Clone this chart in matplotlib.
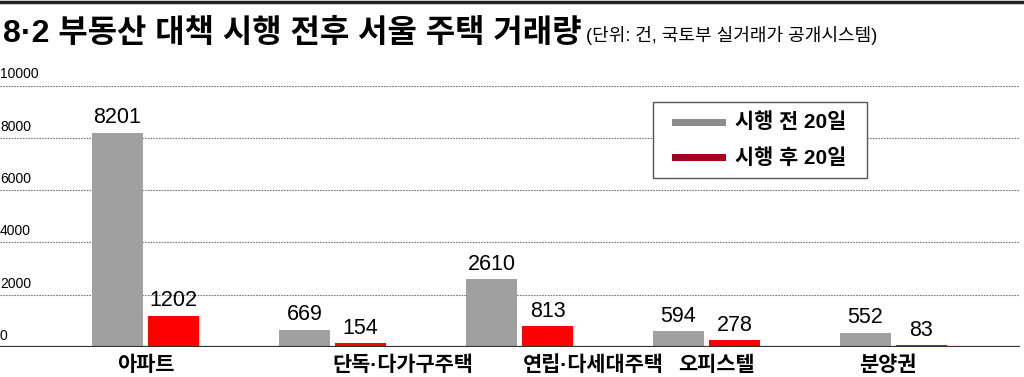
import matplotlib
matplotlib.use("Agg")
import matplotlib.pyplot as plt
from matplotlib.patches import Rectangle
from matplotlib.lines import Line2D
import numpy as np

categories = ["아파트", "단독·다가구주택", "연립·다세대주택", "오피스텔", "분양권"]
before = [8201, 669, 2610, 594, 552]
after = [1202, 154, 813, 278, 83]
series_names = ["시행 전 20일", "시행 후 20일"]
yticks = [0, 2000, 4000, 6000, 8000, 10000]
title = "8·2 부동산 대책 시행 전후 서울 주택 거래량"
subtitle = "(단위: 건, 국토부 실거래가 공개시스템)"

# layout (pixel-based offsets for category labels, relative to group centre)
label_offsets_px = [0, 70, 74, 10, -6]

KR = ["Liberation Sans", "Noto Sans CJK KR", "DejaVu Sans"]
NUM = ["Liberation Sans Narrow", "Liberation Sans", "DejaVu Sans"]

W, H = 1024, 377
fig = plt.figure(figsize=(W / 100, H / 100), dpi=100)
fig.patch.set_facecolor("white")

base_px, top_px = 347, 85.5
ax = fig.add_axes([0, (H - base_px) / H, 1020 / W, (base_px - top_px) / H])
ax.set_ylim(0, 10000)
group_px = 187.0
xl = (0 - 145.5) / group_px
xr = (1020 - 145.5) / group_px
ax.set_xlim(xl, xr)

bw = 51 / group_px
gap = 5 / group_px
x = np.arange(len(categories))
gray_c = "#a0a0a0"
red_c = "#ff0000"
ax.bar(x - (gap / 2 + bw / 2), before, width=bw, color=gray_c, zorder=3)
ax.bar(x + (gap / 2 + bw / 2), after, width=bw, color=red_c, zorder=3)

for xi, v in zip(x, before):
    ax.annotate(str(v), (xi - (gap / 2 + bw / 2), v), xytext=(0, 3),
                textcoords="offset points", ha="center", va="bottom",
                fontsize=15.5, family=NUM, color="black", zorder=4)
for xi, v in zip(x, after):
    ax.annotate(str(v), (xi + (gap / 2 + bw / 2), v), xytext=(0, 3),
                textcoords="offset points", ha="center", va="bottom",
                fontsize=15.5, family=NUM, color="black", zorder=4)

# grid lines
for t in yticks[1:]:
    ax.axhline(t, color="#777777", lw=0.8, ls=(0, (1.5, 1)), zorder=1)
ax.axhline(0, color="#333333", lw=1.6, zorder=5)

for t in yticks:
    ax.annotate(str(t), (0, t), xycoords=("axes fraction", "data"),
                xytext=(0, 3), textcoords="offset points",
                ha="left", va="bottom", fontsize=10, family=NUM, color="black")

for xi, cat, off in zip(x, categories, label_offsets_px):
    ax.annotate(cat, (xi + off / group_px, 0), xytext=(0, -6),
                textcoords="offset points", ha="center", va="top",
                fontsize=15, family=KR, fontweight="bold", color="black")

ax.set_xticks([])
ax.set_yticks([])
for s in ax.spines.values():
    s.set_visible(False)
ax.patch.set_alpha(0)

# legend (drawn in figure pixel space)
def fx(px):
    return px / W

def fy(py):
    return 1 - py / H

box = Rectangle((fx(653), fy(178)), fx(867) - fx(653), fy(102) - fy(178),
                transform=fig.transFigure, facecolor="white", edgecolor="#555555",
                lw=1.0, zorder=6)
fig.add_artist(box)
leg_colors = ["#8c8c8c", "#a50021"]
for i, (name, col) in enumerate(zip(series_names, leg_colors)):
    cy = 122 + 36 * i
    fig.add_artist(Rectangle((fx(672), fy(cy + 3.5)), fx(726) - fx(672), 7 / H,
                             transform=fig.transFigure, facecolor=col,
                             edgecolor="none", zorder=7))
    fig.text(fx(735), fy(cy), name, fontsize=15, family=KR, fontweight="bold",
             ha="left", va="center", zorder=7)

# top rule
fig.add_artist(Line2D([0, 1], [1 - 2 / H, 1 - 2 / H], color="#222222", lw=2.5,
                      transform=fig.transFigure))

t1 = fig.text(3 / W, 1 - 42 / H, title, fontsize=23, family=KR,
              fontweight="bold", ha="left", va="baseline")
fig.canvas.draw()
bb = t1.get_window_extent(renderer=fig.canvas.get_renderer())
fig.text((bb.x1 + 4) / W, 1 - 41 / H, subtitle, fontsize=13, family=KR,
         ha="left", va="baseline")

fig.savefig("out.png", dpi=100)
